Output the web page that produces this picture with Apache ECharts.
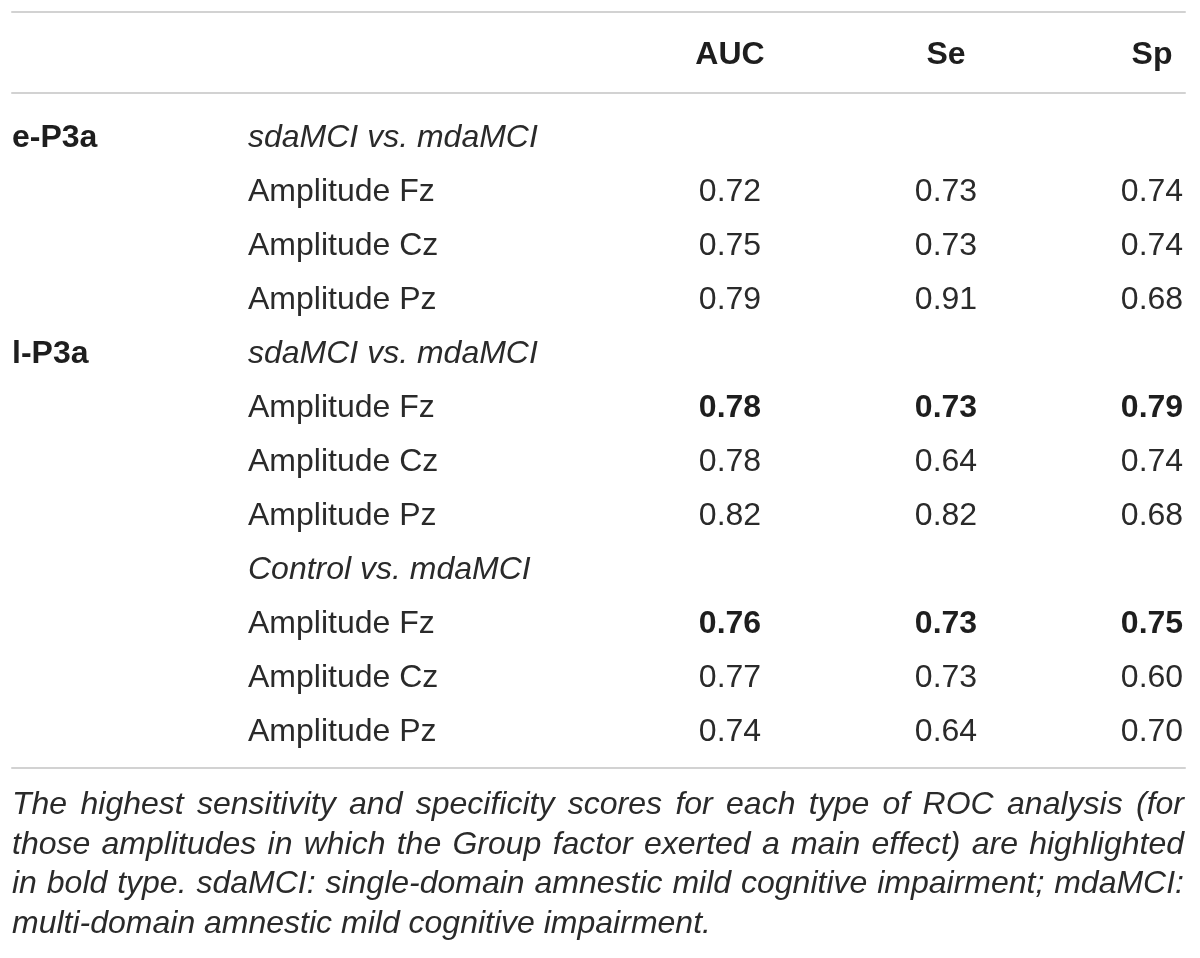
<!DOCTYPE html>
<html>
<head>
<meta charset="utf-8">
<title>ROC analysis table</title>
<script src="https://cdn.jsdelivr.net/npm/echarts@6.0.0/dist/echarts.min.js"></script>
<style>
  html, body { margin: 0; padding: 0; background: #fff; }
  #main { width: 1200px; height: 958px; }
</style>
</head>
<body>
<div id="main"></div>
<script>
// 表格数据
var headers = ['AUC', 'Se', 'Sp'];
var groups = ['e-P3a', 'l-P3a'];
var groupRows = [0, 4];
var rowLabels = [
  'sdaMCI vs. mdaMCI', 'Amplitude Fz', 'Amplitude Cz', 'Amplitude Pz',
  'sdaMCI vs. mdaMCI', 'Amplitude Fz', 'Amplitude Cz', 'Amplitude Pz',
  'Control vs. mdaMCI', 'Amplitude Fz', 'Amplitude Cz', 'Amplitude Pz'
];
var comparisonRows = [0, 4, 8];
var auc = [null, 0.72, 0.75, 0.79, null, 0.78, 0.78, 0.82, null, 0.76, 0.77, 0.74];
var se  = [null, 0.73, 0.73, 0.91, null, 0.73, 0.64, 0.82, null, 0.73, 0.73, 0.64];
var sp  = [null, 0.74, 0.74, 0.68, null, 0.79, 0.74, 0.68, null, 0.75, 0.60, 0.70];
var boldRows = [5, 9];
var footnote = [
  'The highest sensitivity and specificity scores for each type of ROC analysis (for',
  'those amplitudes in which the Group factor exerted a main effect) are highlighted',
  'in bold type. sdaMCI: single-domain amnestic mild cognitive impairment; mdaMCI:',
  'multi-domain amnestic mild cognitive impairment.'
];

// 版式
var FONT = '"Liberation Sans", Arial, Helvetica, sans-serif';
var TEXT_COLOR = '#2a2a2a';
var RULE_COLOR = '#d2d2d2';
var colX = [12, 248, 730, 946, 1152];
var colAlign = ['left', 'left', 'center', 'center', 'center'];
var NUDGE = 3; // 文字基线微调

// 单元格: [列, 行, 文本, 粗细, 斜体]
var headCells = headers.map(function (h, i) {
  return [i + 2, 0, h, 'bold', 'normal'];
});
var bodyCells = [];
groups.forEach(function (g, i) {
  bodyCells.push([0, groupRows[i], g, 'bold', 'normal']);
});
rowLabels.forEach(function (label, i) {
  bodyCells.push([1, i, label, 'normal', comparisonRows.indexOf(i) >= 0 ? 'italic' : 'normal']);
});
[auc, se, sp].forEach(function (arr, k) {
  arr.forEach(function (v, i) {
    if (v === null) return;
    bodyCells.push([k + 2, i, v.toFixed(2), boldRows.indexOf(i) >= 0 ? 'bold' : 'normal', 'normal']);
  });
});

function cellRenderer(cells) {
  return function (params, api) {
    var cell = cells[params.dataIndex];
    var p = api.coord([colX[cell[0]], cell[1]]);
    return {
      type: 'text',
      x: p[0],
      y: p[1] + NUDGE,
      style: {
        text: cell[2],
        fontSize: 32,
        fontFamily: FONT,
        fontWeight: cell[3],
        fontStyle: cell[4],
        fill: cell[3] === 'bold' ? '#1e1e1e' : TEXT_COLOR,
        align: colAlign[cell[0]],
        verticalAlign: 'middle'
      }
    };
  };
}

var ruleAxis = function (gridIndex, position) {
  return {
    type: 'value',
    gridIndex: gridIndex,
    position: position,
    min: 12,
    max: 1185,
    axisLine: { show: true, onZero: false, lineStyle: { color: RULE_COLOR, width: 2 } },
    axisTick: { show: false },
    axisLabel: { show: false },
    splitLine: { show: false }
  };
};

// 脚注 两端对齐
var measure = document.createElement('canvas').getContext('2d');
var NOTE_SIZE = 32;
measure.font = 'italic ' + NOTE_SIZE + 'px ' + FONT;
var noteLines = [];
footnote.forEach(function (line, li) {
  var words = line.split(' ');
  var widths = words.map(function (w) { return measure.measureText(w).width; });
  var total = widths.reduce(function (a, b) { return a + b; }, 0);
  var justify = li < footnote.length - 1;
  var gap = justify ? (1184 - 12 - total) / (words.length - 1) : measure.measureText(' ').width;
  var x = 12;
  words.forEach(function (w, k) {
    noteLines.push({
      type: 'text',
      x: x,
      y: 805 + li * 39.7,
      style: {
        text: w,
        fontSize: NOTE_SIZE,
        fontFamily: FONT,
        fontStyle: 'italic',
        fill: TEXT_COLOR,
        align: 'left',
        verticalAlign: 'middle'
      }
    });
    x += widths[k] + gap;
  });
});

var myChart = echarts.init(document.getElementById('main'));
var option = {
  animation: false,
  backgroundColor: '#fff',
  grid: [
    { left: 12, width: 1173, top: 12, height: 81 },
    { left: 12, width: 1173, top: 93, height: 675 }
  ],
  xAxis: [
    ruleAxis(0, 'top'),
    ruleAxis(0, 'bottom'),
    ruleAxis(1, 'bottom')
  ],
  yAxis: [
    { type: 'category', gridIndex: 0, data: ['header'], show: false },
    { type: 'value', gridIndex: 1, inverse: true, min: -0.78, max: 11.72, show: false }
  ],
  series: [
    {
      type: 'custom',
      xAxisIndex: 1,
      yAxisIndex: 0,
      clip: false,
      renderItem: cellRenderer(headCells),
      encode: { x: 0, y: 1 },
      data: headCells.map(function (c) { return [colX[c[0]], c[1]]; })
    },
    {
      type: 'custom',
      xAxisIndex: 2,
      yAxisIndex: 1,
      clip: false,
      renderItem: cellRenderer(bodyCells),
      encode: { x: 0, y: 1 },
      data: bodyCells.map(function (c) { return [colX[c[0]], c[1]]; })
    }
  ],
  graphic: noteLines
};
myChart.setOption(option);
</script>
</body>
</html>
